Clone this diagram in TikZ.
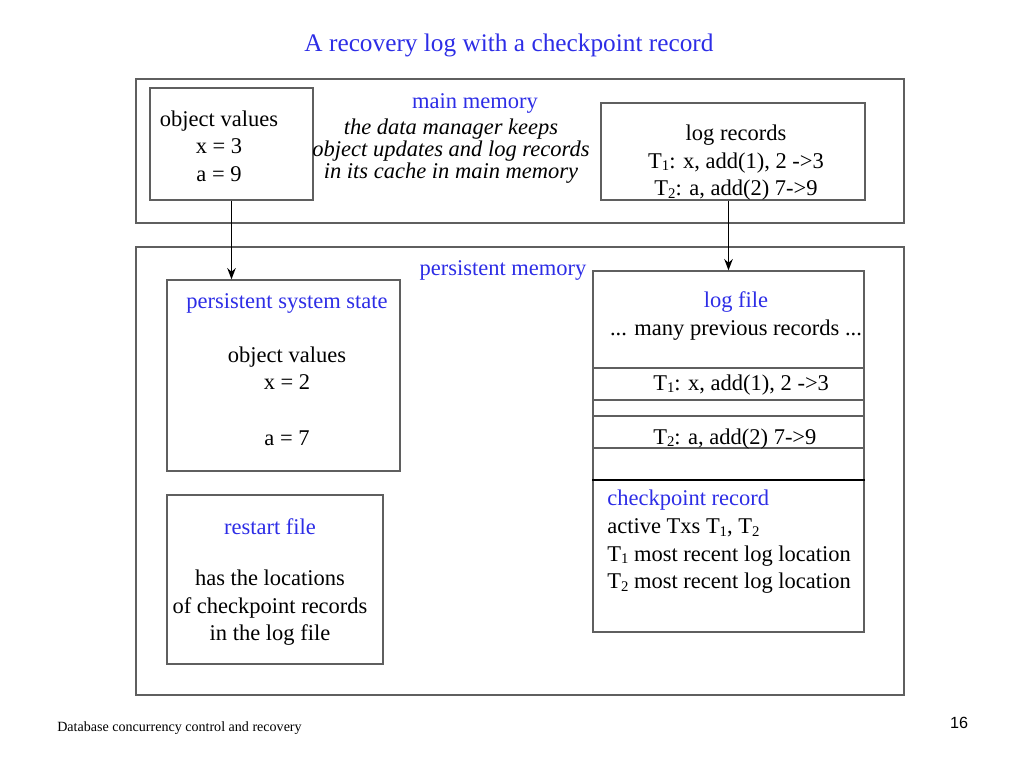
\documentclass[tikz,border=0pt]{standalone}
\usepackage{fontspec}
\setmainfont{Liberation Serif}
\newfontfamily\footsans{Liberation Sans}
\usetikzlibrary{arrows.meta, positioning, fit}
\definecolor{slideblue}{RGB}{45,45,230}
\definecolor{framegray}{RGB}{95,95,95}
\newcommand\tsub[1]{\raisebox{-0.25ex}{\fontsize{10.5}{11}\selectfont #1}}

\begin{document}
\begin{tikzpicture}[x=0.025cm, y=-0.025cm,
    box/.style={draw=framegray, line width=0.9pt, inner sep=0pt},
    body/.style={font=\fontsize{16}{19.6}\selectfont, align=center, inner sep=0pt},
    heading/.style={body, text=slideblue},
    note/.style={font=\fontsize{16}{15.4}\selectfont\itshape, align=center, inner sep=0pt},
    flow/.style={line width=1.3pt, -{Stealth[length=8pt, width=6pt]}}]

  \useasboundingbox (0,0) rectangle (1024,768);

  % slide title
  \node[heading, font=\fontsize{18}{22}\selectfont] (title) at (509,45) {A recovery log with a checkpoint record};

  % main memory and its cache
  \node[box, fit={(136,79) (904,223)}] (mainmem) {};
  \node[box, fit={(150,88) (313,200)}] (objval) {};
  \node[box, fit={(601,103) (865,200)}] (logrec) {};
  \node[heading] (mainlabel) at (475,103) {main memory};
  \node[note] (cachenote) at (451,151) {the data manager keeps\\object updates and log records\\in its cache in main memory};
  \node[body] (objtext) at (219,146) {object values\\x = 3\\a = 9};
  \node[body] (logrectext) at (736,163) {log records\\T\tsub{1}: x, add(1), 2 ->3\\T\tsub{2}: a, add(2) 7->9};

  % persistent memory
  \node[box, fit={(136,247) (904,695)}] (persmem) {};
  \node[heading] (perslabel) at (503,270) {persistent memory};

  \node[box, fit={(167,280) (400,471)}] (sysstate) {};
  \node[heading] (statelabel) at (287,303) {persistent system state};
  \node[body] (statetext) at (287,396) {object values\\x = 2\\[19.6pt]a = 7};

  \node[box, fit={(167,495) (383,664)}] (restart) {};
  \node[heading] (restartlabel) at (270,527) {restart file};
  \node[body] (restarttext) at (270,608) {has the locations\\of checkpoint records\\in the log file};

  % log file with its records
  \node[box, fit={(593,271) (864,632)}] (logfile) {};
  \node[heading] (loglabel) at (736,302) {log file};
  \node[body] (prevrec) at (736,330) {... many previous records ...};
  \foreach \y in {368,400,416,448}
    \draw[framegray, line width=0.9pt] (logfile.west |- 0,\y) -- (logfile.east |- 0,\y);
  \draw[black, line width=1.2pt] (logfile.west |- 0,480) -- (logfile.east |- 0,480);
  \node[body, anchor=west] (recone) at (653,385) {T\tsub{1}: x, add(1), 2 ->3};
  \node[body, anchor=west] (rectwo) at (653,439) {T\tsub{2}: a, add(2) 7->9};
  \node[body, align=left, anchor=north west] (ckpt) at (607,490) {\textcolor{slideblue}{checkpoint record}\\active Txs T\tsub{1}, T\tsub{2}\\T\tsub{1} most recent log location\\T\tsub{2} most recent log location};

  % flushing from cache to disk
  \draw[flow] (objval.south) -- (objval.south |- sysstate.north);
  \draw[flow] (logfile.north |- logrec.south) -- (logfile.north);

  % footer
  \node[font=\fontsize{10}{12}\selectfont, anchor=west, inner sep=0pt] (footer) at (57,728) {Database concurrency control and recovery};
  \node[font=\footsans\fontsize{11.5}{13}\selectfont, inner sep=0pt] (pagenum) at (959,723) {16};
\end{tikzpicture}
\end{document}
